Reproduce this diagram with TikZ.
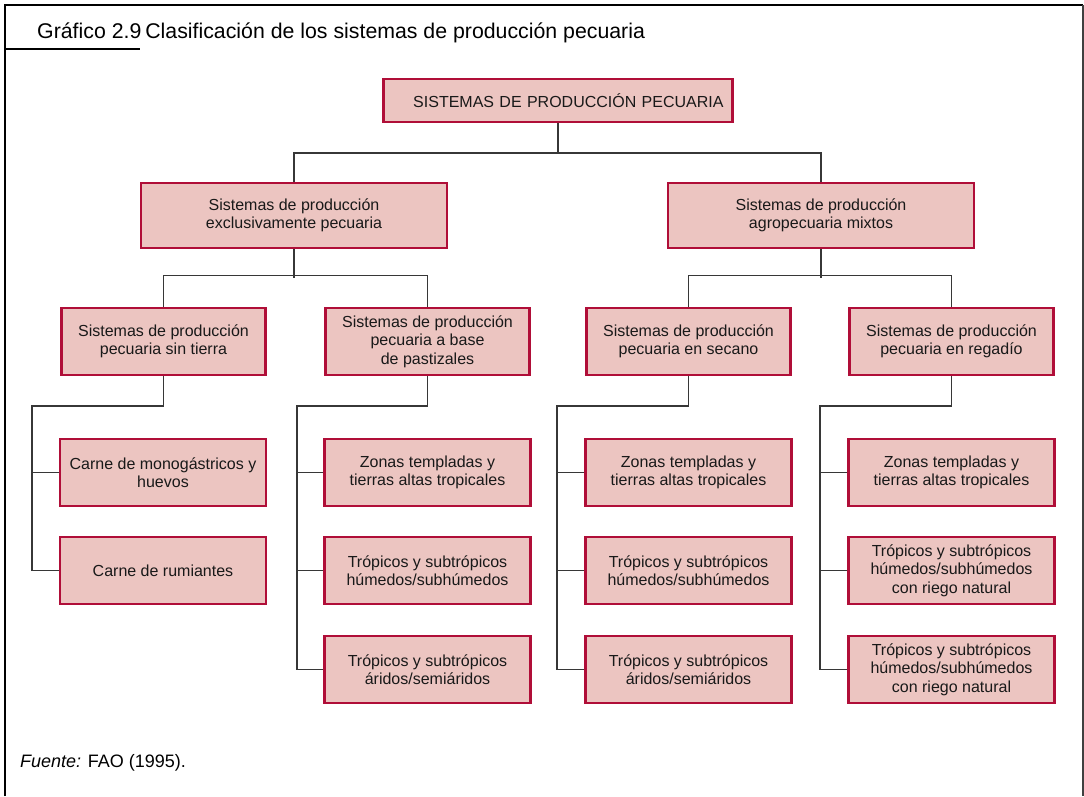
\documentclass[tikz,border=0pt]{standalone}
\usepackage{fontspec}
\setmainfont{Liberation Sans}
\usetikzlibrary{positioning}
\definecolor{boxfill}{RGB}{236,197,193}
\definecolor{boxline}{RGB}{176,14,56}
\definecolor{linkgray}{RGB}{55,55,55}
\begin{document}
\begin{tikzpicture}[x=1pt, y=-1pt,
  box/.style={rectangle, draw=boxline, fill=boxfill, line width=2.4pt, align=center, inner sep=0pt, text=black!90, font=\fontsize{16}{18.3}\selectfont},
  topbox/.style={box, minimum width=349pt, minimum height=43pt},
  midbox/.style={box, minimum width=306pt, minimum height=65pt},
  subbox/.style={box, minimum width=204pt, minimum height=67pt},
  leafbox/.style={box, minimum width=206pt, minimum height=67pt},
  link/.style={draw=linkgray, line width=1.3pt}]
  \useasboundingbox (0,0) rectangle (1084,796);
  % Frame
  \draw[line width=2.5pt] (5,796) -- (5,5) -- (1083,5);
  \draw[line width=1.5pt, black!75] (1083,5) -- (1083,796);
  \draw[line width=2.5pt] (5,49) -- (140,49);
  \node (title) [anchor=base west, inner sep=0pt, font=\fontsize{21.3}{24}\selectfont] at (37,38) {Gráfico 2.9\hspace{4pt}Clasificación de los sistemas de producción pecuaria};
  \node (source) [anchor=base west, inner sep=0pt, font=\fontsize{18}{20}\selectfont] at (20,767) {\textit{Fuente:} FAO (1995).};
  % Nodes
  \node (root) [topbox, text width=331pt, align=right] at (558,100.5) {SISTEMAS DE PRODUCCIÓN PECUARIA};
  \node (excl) [midbox] at (294,215.5) {Sistemas de producción\\exclusivamente pecuaria};
  \node (mixed) [midbox] at (821,215.5) {Sistemas de producción\\agropecuaria mixtos};
  \node (landless) [subbox] at (163.5,341.5) {Sistemas de producción\\pecuaria sin tierra};
  \node (grass) [subbox] at (427.5,341.5) {Sistemas de producción\\pecuaria a base\\de pastizales};
  \node (rainfed) [subbox] at (688.5,341.5) {Sistemas de producción\\pecuaria en secano};
  \node (irrig) [subbox] at (951.5,341.5) {Sistemas de producción\\pecuaria en regadío};
  \node (mono) [leafbox] at (163,472.5) {Carne de monogástricos y\\huevos};
  \node (rumi) [leafbox] at (163,570.5) {Carne de rumiantes};
  \node (grassA) [leafbox] at (427.5,472.5) {Zonas templadas y\\tierras altas tropicales};
  \node (grassB) [leafbox] at (427.5,570.5) {Trópicos y subtrópicos\\húmedos/subhúmedos};
  \node (grassC) [leafbox] at (427.5,669.5) {Trópicos y subtrópicos\\áridos/semiáridos};
  \node (rainA) [leafbox] at (688.5,472.5) {Zonas templadas y\\tierras altas tropicales};
  \node (rainB) [leafbox] at (688.5,570.5) {Trópicos y subtrópicos\\húmedos/subhúmedos};
  \node (rainC) [leafbox] at (688.5,669.5) {Trópicos y subtrópicos\\áridos/semiáridos};
  \node (irrA) [leafbox] at (951.5,472.5) {Zonas templadas y\\tierras altas tropicales};
  \node (irrB) [leafbox] at (951.5,570.5) {Trópicos y subtrópicos\\húmedos/subhúmedos\\con riego natural};
  \node (irrC) [leafbox] at (951.5,669.5) {Trópicos y subtrópicos\\húmedos/subhúmedos\\con riego natural};
  % Bus points
  \coordinate (busTop) at (558,153);
  \coordinate (busLand) at (32,406);
  \coordinate (busGrass) at (297,406);
  \coordinate (busRain) at (557,406);
  \coordinate (busIrr) at (820,406);
  % Lines
  \draw[link] (root.south) -- (busTop);
  \draw[link] (excl.north) |- (busTop) -| (mixed.north);
  \draw[link] (excl.south) -- ++(0,29);
  \draw[link] (landless.north) -- ++(0,-31) -| (grass.north);
  \draw[link] (mixed.south) -- ++(0,29);
  \draw[link] (rainfed.north) -- ++(0,-31) -| (irrig.north);
  \draw[link] (landless.south) |- (busLand) |- (rumi.west);
  \draw[link] (mono.west) -- (mono.west -| busLand);
  \draw[link] (grass.south) |- (busGrass) |- (grassC.west);
  \draw[link] (grassA.west) -- (grassA.west -| busGrass);
  \draw[link] (grassB.west) -- (grassB.west -| busGrass);
  \draw[link] (rainfed.south) |- (busRain) |- (rainC.west);
  \draw[link] (rainA.west) -- (rainA.west -| busRain);
  \draw[link] (rainB.west) -- (rainB.west -| busRain);
  \draw[link] (irrig.south) |- (busIrr) |- (irrC.west);
  \draw[link] (irrA.west) -- (irrA.west -| busIrr);
  \draw[link] (irrB.west) -- (irrB.west -| busIrr);
\end{tikzpicture}
\end{document}
